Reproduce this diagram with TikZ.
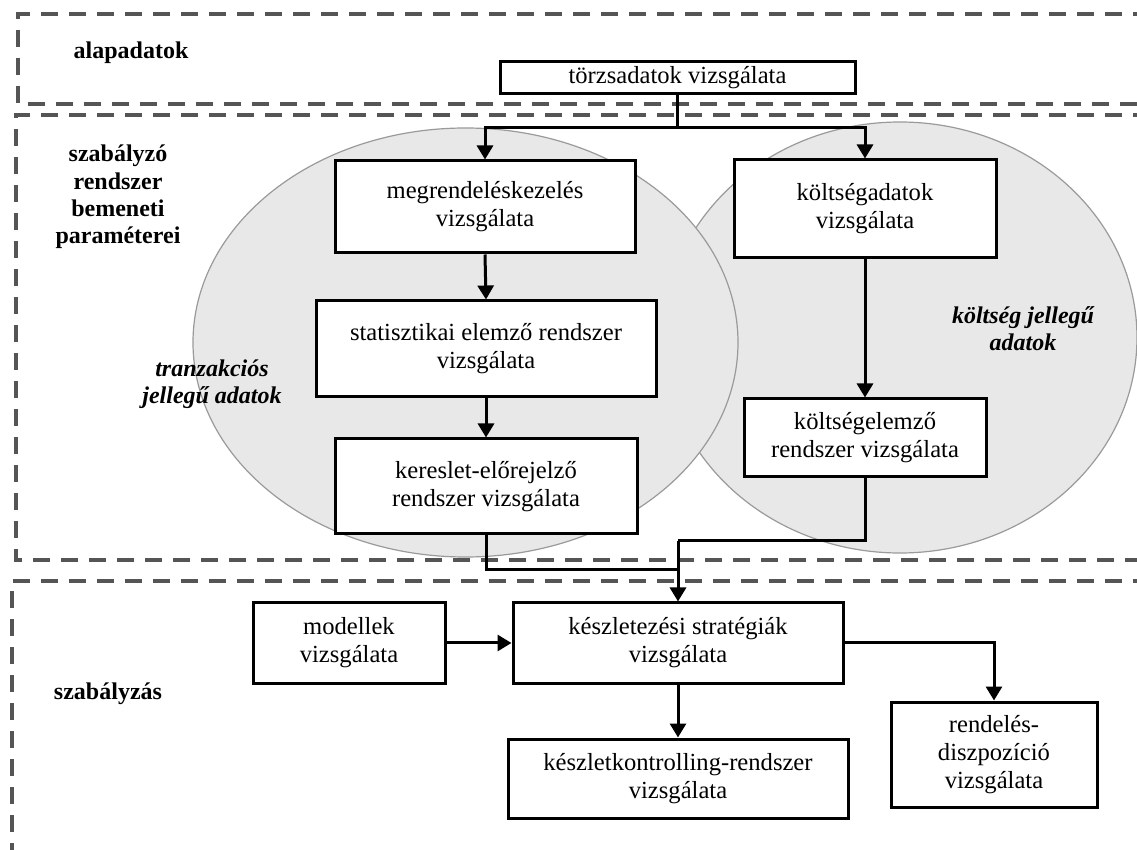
\documentclass[tikz,border=0pt]{standalone}
\usepackage{fontspec}
\setmainfont{Liberation Serif}
\usetikzlibrary{arrows.meta,shapes.geometric}

\definecolor{framegray}{HTML}{555555}
\definecolor{blobfill}{HTML}{E8E8E8}
\definecolor{blobline}{HTML}{9A9A9A}

\tikzset{
  box/.style={draw, line width=1.5pt, fill=white, align=center, inner sep=0pt,
    font=\fontsize{12.3}{14}\selectfont},
  lbl/.style={align=center, font=\fontsize{12}{13.7}\selectfont\bfseries},
  ilbl/.style={align=center, font=\fontsize{12}{13.5}\selectfont\bfseries\itshape},
  conn/.style={line width=1.5pt},
  arr/.style={conn, -{Triangle[length=7pt,width=8pt]}},
  frame/.style={draw=framegray, line width=1.6pt, dash pattern=on 8.5pt off 5.5pt},
  blob/.style={ellipse, draw=blobline, fill=blobfill, line width=0.6pt, inner sep=0pt}
}

\begin{document}
\begin{tikzpicture}[x=0.5pt,y=-0.5pt]
  \useasboundingbox (0,0) rectangle (1137,850);
  \clip (0,0) rectangle (1137,850);

  %frames
  \draw[frame] (1150,14) -- (18,14) -- (18,104) -- (1150,104);
  \draw[frame] (1150,115) -- (16,115) -- (16,560) -- (1150,560);
  \draw[frame] (1150,581) -- (12,581) -- (12,860);

  %ellipses
  \node[blob, minimum width=237pt, minimum height=215.5pt] (koltsBlob) at (900,337.5) {};
  \node[blob, minimum width=272.5pt, minimum height=214.5pt] (tranzBlob) at (465.5,342.5) {};

  %labels
  \node[lbl] (alap) at (131,53) {alapadatok};
  \node[lbl] (bemenet) at (118,197) {szabályzó\\rendszer\\bemeneti\\paraméterei};
  \node[lbl] (szab) at (108,694) {szabályzás};
  \node[ilbl] (tranzLbl) at (212,384) {tranzakciós\\jellegű adatok};
  \node[ilbl] (koltsLbl) at (1023,329) {költség jellegű\\adatok};

  %boxes
  \node[box, minimum width=177.5pt, minimum height=16pt] (torzs) at (677.5,78) {törzsadatok vizsgálata};
  \node[box, minimum width=150pt, minimum height=46pt] (megrend) at (485,207) {megrendeléskezelés\\vizsgálata};
  \node[box, minimum width=170pt, minimum height=48pt] (stat) at (486,349) {statisztikai elemző rendszer\\vizsgálata};
  \node[box, minimum width=151pt, minimum height=47.5pt] (keres) at (486,486.5) {kereslet-előrejelző\\rendszer vizsgálata};
  \node[box, minimum width=131pt, minimum height=49pt] (koltsadat) at (865,209) {költségadatok\\vizsgálata};
  \node[box, minimum width=121pt, minimum height=39pt] (koltselem) at (865,438) {költségelemző\\rendszer vizsgálata};
  \node[box, minimum width=96pt, minimum height=40pt] (modell) at (349,643) {modellek\\vizsgálata};
  \node[box, minimum width=165pt, minimum height=40pt] (keszlet) at (678,643) {készletezési stratégiák\\vizsgálata};
  \node[box, minimum width=170pt, minimum height=39.5pt] (kontroll) at (678,778.5) {készletkontrolling-rendszer\\vizsgálata};
  \node[box, minimum width=103pt, minimum height=52.5pt] (rendel) at (994,754.5) {rendelés-\\diszpozíció\\vizsgálata};

  %connectors
  \coordinate (split) at (677.5,128);
  \coordinate (bendR) at (678,541);
  \coordinate (merge) at (678,570);
  \draw[conn] (torzs.south) -- (split);
  \draw[arr] (split) -| (megrend.north);
  \draw[arr] (split) -| (koltsadat.north);
  \draw[arr] (megrend.south) -- (stat.north);
  \draw[arr] (stat.south) -- (keres.north);
  \draw[arr] (koltsadat.south) -- (koltselem.north);
  \draw[conn] (koltselem.south) |- (bendR);
  \draw[conn] (keres.south) |- (merge);
  \draw[arr] (bendR) -- (keszlet.north);
  \draw[arr] (modell.east) -- (keszlet.west);
  \draw[arr] (keszlet.south) -- (kontroll.north);
  \draw[arr] (keszlet.east) -| (rendel.north);
\end{tikzpicture}
\end{document}
